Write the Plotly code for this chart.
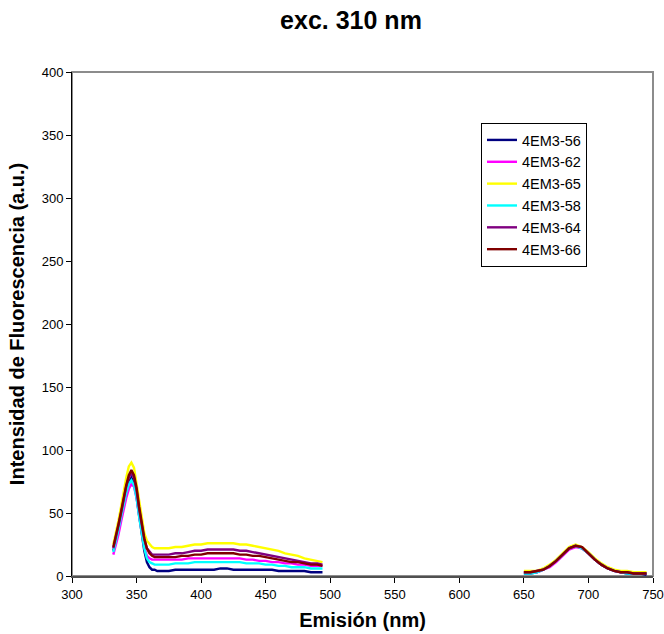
import plotly.graph_objects as go

# Emission wavelengths (nm) for the two recorded windows
x_uv = [332, 334, 336, 338, 340, 342, 344, 346, 348, 350, 352, 354, 356, 358, 360,
        362, 364, 366, 368, 370, 375, 380, 385, 390, 395, 400, 405, 410, 415, 420,
        425, 430, 435, 440, 445, 450, 455, 460, 465, 470, 475, 480, 485, 490, 494]
x_red = [650, 655, 660, 665, 670, 675, 680, 685, 690, 695, 700, 705, 710, 715, 720,
         725, 730, 735, 740, 745]

series_names = ["4EM3-56", "4EM3-62", "4EM3-65", "4EM3-58", "4EM3-64", "4EM3-66"]
series_colors = ["#000080", "#FF00FF", "#FFFF00", "#00FFFF", "#800080", "#800000"]

y56_uv = [20, 28, 38, 48, 58, 68, 75, 78, 74, 63, 48, 33, 20, 11, 7, 5, 5, 4, 4, 4, 4, 5, 5, 5, 5,
          5, 5, 5, 6, 6, 5, 5, 5, 5, 5, 5, 5, 4, 4, 4, 4, 4, 3, 3, 3]
y62_uv = [17, 24, 33, 43, 53, 62, 69, 73, 71, 62, 48, 34, 23, 16, 14, 13, 13, 13, 13, 13, 13, 13,
          13, 14, 14, 14, 14, 14, 14, 14, 14, 14, 13, 13, 12, 12, 11, 11, 10, 10, 9, 9, 8, 8, 8]
y65_uv = [25, 34, 44, 55, 67, 78, 87, 90, 86, 72, 58, 45, 34, 28, 25, 23, 22, 22, 22, 22, 22, 23,
          23, 24, 25, 25, 26, 26, 26, 26, 26, 25, 25, 24, 23, 22, 21, 20, 18, 17, 16, 14, 13, 12, 11]
y58_uv = [19, 27, 37, 47, 57, 66, 73, 76, 72, 62, 47, 33, 22, 14, 11, 10, 9, 9, 9, 9, 9, 10, 10,
          10, 11, 11, 11, 11, 11, 11, 11, 11, 10, 10, 10, 9, 9, 8, 8, 7, 7, 7, 6, 6, 6]
y64_uv = [22, 30, 40, 50, 61, 71, 78, 82, 78, 68, 53, 40, 29, 22, 19, 17, 17, 17, 17, 17, 17, 18,
          18, 19, 20, 20, 21, 21, 21, 21, 21, 20, 20, 19, 18, 17, 16, 15, 14, 13, 12, 11, 10, 10, 9]
y66_uv = [23, 31, 41, 51, 62, 72, 80, 84, 80, 70, 55, 41, 30, 22, 18, 16, 15, 15, 15, 15, 15, 15,
          16, 16, 17, 17, 18, 18, 18, 18, 18, 17, 17, 16, 16, 15, 14, 13, 12, 11, 11, 10, 9, 9, 8]

y56_red = [2, 2, 3, 5, 8, 12, 17, 22, 24, 22, 18, 13, 9, 6, 4, 3, 2, 2, 2, 1]
y62_red = [3, 3, 3, 5, 7, 11, 16, 21, 23, 22, 18, 13, 9, 6, 4, 3, 3, 2, 2, 2]
y65_red = [4, 4, 4, 6, 9, 13, 18, 23, 25, 23, 19, 14, 10, 7, 5, 4, 4, 3, 3, 3]
y58_red = [2, 2, 3, 5, 8, 12, 17, 22, 24, 22, 18, 13, 9, 6, 4, 3, 2, 2, 2, 2]
y64_red = [3, 3, 4, 5, 8, 12, 17, 22, 24, 23, 18, 13, 9, 6, 4, 3, 3, 2, 2, 2]
y66_red = [3, 3, 4, 5, 8, 12, 17, 22, 24, 23, 18, 13, 9, 6, 4, 3, 3, 2, 2, 2]

uv_sets = [y56_uv, y62_uv, y65_uv, y58_uv, y64_uv, y66_uv]
red_sets = [y56_red, y62_red, y65_red, y58_red, y64_red, y66_red]

x_ticks = [300, 350, 400, 450, 500, 550, 600, 650, 700, 750]
y_ticks = [0, 50, 100, 150, 200, 250, 300, 350, 400]

fig = go.Figure()
for name, color, yu, yr in zip(series_names, series_colors, uv_sets, red_sets):
    fig.add_trace(go.Scatter(
        x=x_uv + [None] + x_red,
        y=yu + [None] + yr,
        mode="lines", name=name,
        line=dict(color=color, width=2.4),
        connectgaps=False,
    ))

fig.update_layout(
    width=664, height=634,
    margin=dict(l=72, r=11, t=72, b=58),
    paper_bgcolor="white", plot_bgcolor="white",
    font=dict(family="Arial, Liberation Sans, sans-serif", color="black", size=13),
    title=dict(text="<b>exc. 310 nm</b>", x=351/664, xref="container", xanchor="center",
               y=1 - 20/634, yref="container", yanchor="middle",
               font=dict(size=25, color="black")),
    showlegend=True,
    legend=dict(x=(481-72)/581, y=(576-123)/504, xanchor="left", yanchor="top",
                bordercolor="black", borderwidth=1, bgcolor="white",
                font=dict(size=14.5, color="black"), tracegroupgap=0),
    shapes=[dict(type="rect", xref="paper", yref="paper", x0=0, y0=0, x1=1, y1=1,
                 line=dict(color="#8c8c8c", width=2), layer="below")],
)
fig.update_xaxes(range=[300, 750], tickvals=x_ticks, ticks="outside", ticklen=5,
                 tickcolor="black", showline=True, linecolor="#505050", linewidth=2,
                 showgrid=False, zeroline=False, automargin=False,
                 title=dict(text="<b>Emisión (nm)</b>", font=dict(size=20), standoff=12))
fig.update_yaxes(range=[0, 400], tickvals=y_ticks, ticks="outside", ticklen=5,
                 tickcolor="black", showline=True, linecolor="black", linewidth=1,
                 showgrid=False, zeroline=False, automargin=False,
                 title=dict(text="<b>Intensidad de Fluorescencia (a.u.)</b>", font=dict(size=20),
                            standoff=11))
fig.write_html("out.html")
